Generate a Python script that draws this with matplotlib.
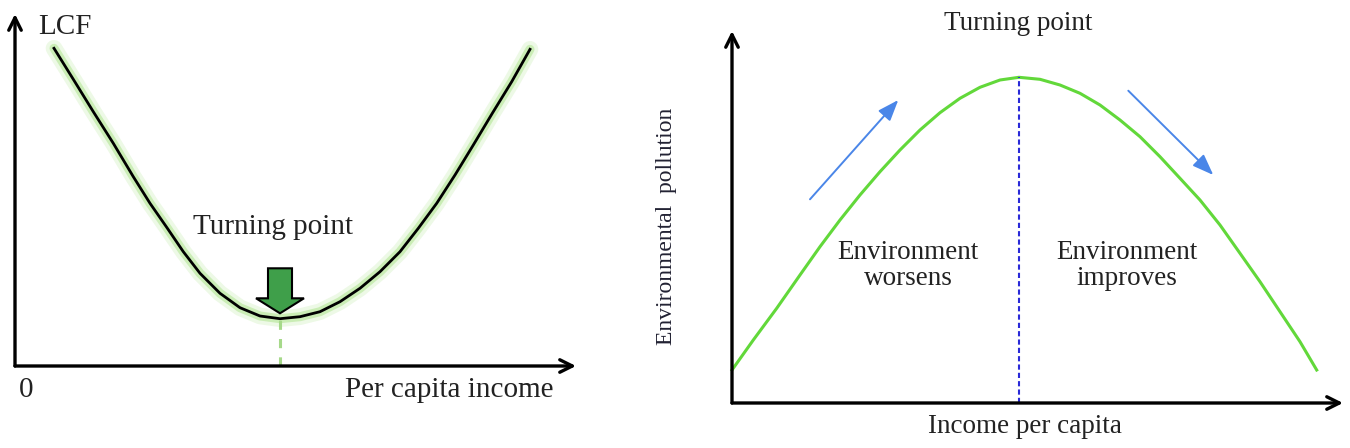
import matplotlib
matplotlib.use('Agg')
import matplotlib.pyplot as plt
from matplotlib.patches import FancyArrow

plt.rcParams['font.family'] = ['Liberation Serif', 'DejaVu Serif']

# Left panel: LCF curve (U shape) (pixel-like units)
lcf_x = [39, 58.3, 78.3, 98.3, 118.3, 135, 151.7, 168.3, 185, 205, 225, 245, 265,
         285, 305, 325, 345, 365, 385, 403.3, 421.7, 440, 458.3, 477.3, 496.7, 515]
lcf_y = [317.7, 286.7, 254.3, 222.7, 189.3, 162.7, 138.7, 114.3, 92.7, 72.7, 58.3, 50, 47.3,
         49.3, 54.3, 64.3, 77.7, 94.3, 114.3, 137.7, 162.7, 191, 221, 252.7, 284.3, 316.7]
lcf_turn_x = 265
lcf_turn_y = 47.3

# Right panel: EKC curve (inverted U)
ekc_x = [0, 21.3, 44.7, 68, 88, 108, 128, 148, 168, 188, 208, 228, 248, 268, 287,
         308, 328, 348, 368, 388, 408, 428, 448, 468, 488, 508, 528, 548, 568, 584.7]
ekc_y = [33, 63, 94.7, 128, 156.3, 183, 208, 231.3, 253, 273, 290.3, 304.7, 315.7, 323, 325.7,
         323.7, 318, 309.7, 298, 283, 266.3, 246.3, 224.7, 203, 178, 149.7, 121.3, 91.3, 61.3, 33]
ekc_turn_x = 287
ekc_turn_y = 325.7

fig = plt.figure(figsize=(13.5, 4.48), dpi=100)

# ---------------- left panel ----------------
ax1 = fig.add_axes([0, 0, 600 / 1350, 1])
ax1.set_xlim(-15, 585)
ax1.set_ylim(-82, 366)
ax1.axis('off')

axis_arrow = dict(arrowstyle='->, head_length=0.9, head_width=0.45', lw=2.4, color='black',
                  shrinkA=0, shrinkB=0)
ax1.annotate('', xy=(0, 352), xytext=(0, 0), arrowprops=axis_arrow)
ax1.annotate('', xy=(561, 0), xytext=(0, 0), arrowprops=axis_arrow)

# green glow behind the black curve
ax1.plot(lcf_x, lcf_y, color='#a8e285', lw=12, alpha=0.2, solid_capstyle='round', solid_joinstyle='round')
ax1.plot(lcf_x, lcf_y, color='#a8e285', lw=6.5, alpha=0.5, solid_capstyle='round', solid_joinstyle='round')
ax1.plot(lcf_x, lcf_y, color='black', lw=2, solid_joinstyle='round')

ax1.plot([lcf_turn_x, lcf_turn_x], [0, lcf_turn_y], color='#a6d98a', lw=2.2, ls=(0, (3, 3)))
ax1.add_patch(FancyArrow(lcf_turn_x, 97.7, 0, -45, width=24, head_width=48, head_length=15,
                         length_includes_head=True, facecolor='#3f9f4a', edgecolor='black', lw=1.5, zorder=5))

ax1.text(258, 138.6, 'Turning point', fontsize=21, ha='center', va='center', color='#222222')
ax1.text(23, 339.5, 'LCF', fontsize=21, ha='left', va='center', color='#222222')
ax1.text(10.7, -23.6, '0', fontsize=21, ha='center', va='center', color='#222222')
ax1.text(434, -23.6, 'Per capita income', fontsize=21, ha='center', va='center', color='#222222')

# ---------------- right panel ----------------
ax2 = fig.add_axes([640 / 1350, 0, 710 / 1350, 1])
ax2.set_xlim(-92, 618)
ax2.set_ylim(-45, 403)
ax2.axis('off')

ax2.annotate('', xy=(0, 372), xytext=(0, 0), arrowprops=axis_arrow)
ax2.annotate('', xy=(611, 0), xytext=(0, 0), arrowprops=axis_arrow)

ax2.plot(ekc_x, ekc_y, color='#62d83a', lw=2.2, solid_joinstyle='round')
ax2.plot([ekc_turn_x, ekc_turn_x], [0, ekc_turn_y], color='#2a2ad8', lw=1.5, ls=(0, (2.5, 1.5)))

blue_arrow = dict(arrowstyle='-|>, head_length=0.8, head_width=0.3', lw=1.4, color='#4a86e8',
                  shrinkA=0, shrinkB=0, mutation_scale=16)
ax2.annotate('', xy=(166.3, 303), xytext=(78, 203.7), arrowprops=blue_arrow)
ax2.annotate('', xy=(481.3, 228), xytext=(396.3, 312.3), arrowprops=blue_arrow)

ax2.text(286, 379.7, 'Turning point', fontsize=19.5, ha='center', va='center', color='#222222')
ax2.text(176.3, 137.5, 'Environment\nworsens', fontsize=19.5, ha='center', va='center',
         color='#222222', linespacing=1.1)
ax2.text(394.7, 137.5, 'Environment\nimproves', fontsize=19.5, ha='center', va='center',
         color='#222222', linespacing=1.1)
ax2.text(-65.6, 176.3, 'Environmental  pollution', fontsize=17, ha='center', va='center',
         rotation=90, color='#222233')
ax2.text(292.6, -23.7, 'Income per capita', fontsize=19.5, ha='center', va='center', color='#222222')

fig.savefig('out.png', dpi=100)
